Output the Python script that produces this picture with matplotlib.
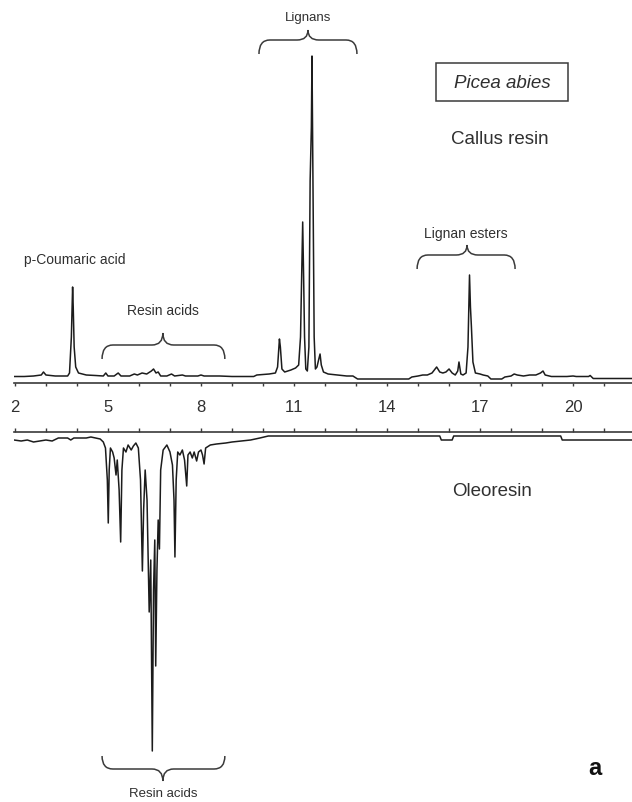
import matplotlib
matplotlib.use('Agg')
import matplotlib.pyplot as plt
from matplotlib.path import Path
from matplotlib.patches import PathPatch, Rectangle

plt.rcParams['font.family'] = ['Liberation Sans', 'DejaVu Sans']
plt.rcParams['text.kerning_factor'] = 1000

# Retention time (min) and detector response for the callus resin trace
callus_time = [
    1.97, 2.3, 2.6, 2.85, 2.92, 3.0, 3.3, 3.7, 3.76, 3.82, 3.86, 3.88, 3.91,
    3.96, 4.05, 4.3, 4.6, 4.85, 4.93, 5.0, 5.2, 5.33, 5.42, 5.7, 5.85, 5.95,
    6.1, 6.25, 6.4, 6.47, 6.55, 6.62, 6.7, 6.9, 7.05, 7.15, 7.4, 7.5, 7.9,
    8.0, 8.1, 8.6, 9.0, 9.7, 9.8, 10.2, 10.4, 10.47, 10.53, 10.56, 10.61,
    10.7, 10.9, 11.05, 11.15, 11.21, 11.28, 11.31, 11.34, 11.38, 11.43,
    11.48, 11.52, 11.56, 11.58, 11.61, 11.65, 11.69, 11.74, 11.8, 11.84,
    11.88, 11.95, 12.1, 12.4, 12.7, 12.9, 13.05, 14.7, 14.8, 15.0, 15.15,
    15.3, 15.45, 15.55, 15.6, 15.7, 15.8, 15.9, 16.0, 16.1, 16.2, 16.28,
    16.32, 16.38, 16.45, 16.55, 16.61, 16.66, 16.69, 16.72, 16.77, 16.85,
    17.0, 17.1, 17.25, 17.35, 17.7, 17.8, 18.0, 18.1, 18.2, 18.4, 18.6,
    18.8, 18.95, 19.03, 19.1, 19.3, 19.8, 20.0, 20.1, 20.5, 20.55, 20.65,
    21.9,
]
callus_signal = [
    0.5, 0.5, 1, 2, 5, 2, 1, 1, 4, 40, 90, 70, 30,
    10, 4, 2, 1.5, 1, 4, 1, 1, 4, 1, 1, 3, 2,
    4, 3, 6, 8, 4, 5, 1, 1, 3, 1, 2, 1, 1,
    2, 1, 1, 0.5, 0.5, 2, 3, 4, 10, 38, 30, 8,
    5, 7, 9, 12, 40, 155, 100, 40, 8, 6,
    30, 196, 250, 321, 200, 40, 8, 10, 18, 23,
    12, 5, 3, 2, 1, 1, -2, -2, 0, 1, 2,
    2, 4, 8, 10, 5, 4, 5, 8, 4, 2, 6,
    15, 3, 2, 4, 30, 102, 70, 51, 15, 4,
    3, 2, 1, -2, -2, 0, 1, 3, 2, 1, 2,
    2, 4, 6, 2, 0.5, 0.5, 1, 0.5, 0.5, 1.5, -1.5,
    -1.5,
]

# Oleoresin trace, plotted downward (depth below its baseline)
oleo_time = [
    1.97, 2.2, 2.4, 2.6, 2.8, 3.0, 3.2, 3.4, 3.7, 3.8, 3.9, 4.3, 4.45, 4.6,
    4.75, 4.85, 4.92, 4.98, 5.01, 5.04, 5.08, 5.15, 5.2, 5.26, 5.3, 5.36,
    5.41, 5.45, 5.5, 5.58, 5.65, 5.75, 5.82, 5.9, 5.98, 6.05, 6.11, 6.15,
    6.2, 6.26, 6.33, 6.38, 6.43, 6.47, 6.51, 6.54, 6.58, 6.62, 6.66, 6.7,
    6.78, 6.9, 7.0, 7.08, 7.13, 7.16, 7.2, 7.25, 7.32, 7.4, 7.47, 7.54,
    7.58, 7.65, 7.72, 7.78, 7.86, 7.92, 8.0, 8.05, 8.1, 8.15, 8.3, 8.5,
    8.8, 9.0, 9.3, 9.6, 9.9, 10.17, 10.2, 15.7, 15.75, 16.1, 16.15, 19.6,
    19.65, 21.9,
]
oleo_depth = [
    0, 1, 0, 2, 1, 0, 1, -2, -2, 0, -2, -2, -3, -2,
    -1, 2, 8, 40, 83, 30, 8, 12, 18, 35, 20, 50,
    102, 30, 8, 12, 5, 10, 6, 3, 8, 40, 131, 70,
    30, 60, 172, 120, 311, 150, 100, 226, 130, 80, 109, 30,
    10, 5, 12, 25, 60, 117, 40, 12, 15, 10, 20, 46,
    15, 12, 18, 12, 21, 12, 10, 15, 24, 8, 5, 4,
    3, 2, 1, 0, -2, -4, -4, -4, 0, 0, -4, -4,
    0, 0,
]

tick_positions = list(range(2, 22))
tick_labels = [str(t) if t % 3 == 2 else '' for t in tick_positions]

TEXT_COLOR = '#303030'
LINE_COLOR = '#1c1c1c'


def draw_brace(ax, x0, x1, xm, y_tip, y_h, y_m, r=0.35):
    verts = [
        (x0, y_tip), (x0, y_h), (x0 + r, y_h),
        (xm - r, y_h), (xm, y_h), (xm, y_m),
        (xm, y_h), (xm + r, y_h),
        (x1 - r, y_h), (x1, y_h), (x1, y_tip),
    ]
    codes = [
        Path.MOVETO, Path.CURVE3, Path.CURVE3,
        Path.LINETO, Path.CURVE3, Path.CURVE3,
        Path.CURVE3, Path.CURVE3,
        Path.LINETO, Path.CURVE3, Path.CURVE3,
    ]
    patch = PathPatch(Path(verts, codes), facecolor='none',
                      edgecolor='#3a3a3a', lw=1.1, clip_on=False)
    ax.add_patch(patch)


fig = plt.figure(figsize=(6.32, 8.03), dpi=100)
left = 14 / 632
ax_top = fig.add_axes([left, 1 - 384 / 803, 1 - left, 384 / 803])
ax_bot = fig.add_axes([left, 0, 1 - left, 370 / 803])

for ax in (ax_top, ax_bot):
    ax.set_xlim(1.97, 21.9)
    ax.set_facecolor('none')
    for side in ('left', 'right'):
        ax.spines[side].set_visible(False)
    ax.set_yticks([])

# upper panel: callus resin
ax_top.set_ylim(-6, 378)
ax_top.spines['top'].set_visible(False)
ax_top.spines['bottom'].set_color('#3a3a3a')
ax_top.spines['bottom'].set_linewidth(1.2)
ax_top.plot(callus_time, callus_signal, color=LINE_COLOR, lw=1.1)
ax_top.set_xticks(tick_positions)
ax_top.set_xticklabels(tick_labels)
ax_top.tick_params(axis='x', direction='out', length=2.5, width=1,
                   color='#3a3a3a', labelsize=12, labelcolor=TEXT_COLOR, pad=9)

# lower panel: oleoresin
ax_bot.set_ylim(-362, 8)
ax_bot.spines['bottom'].set_visible(False)
ax_bot.spines['top'].set_color('#3a3a3a')
ax_bot.spines['top'].set_linewidth(1.2)
ax_bot.plot(oleo_time, [-d for d in oleo_depth], color=LINE_COLOR, lw=1.1)
ax_bot.set_xticks(tick_positions)
ax_bot.tick_params(axis='x', bottom=False, labelbottom=False, top=True,
                   direction='out', length=3, width=1, color='#3a3a3a')

# annotations, upper
ax_top.text(3.94, 118, 'p-Coumaric acid', ha='center', va='center',
            fontsize=10, color=TEXT_COLOR)
ax_top.text(6.77, 67, 'Resin acids', ha='center', va='center',
            fontsize=10, color=TEXT_COLOR)
draw_brace(ax_top, 4.81, 8.77, 6.77, 18, 32, 44)
ax_top.text(11.45, 360, 'Lignans', ha='center', va='center',
            fontsize=9.5, color=TEXT_COLOR)
draw_brace(ax_top, 9.87, 13.03, 11.45, 323, 337, 347)
ax_top.text(16.55, 144, 'Lignan esters', ha='center', va='center',
            fontsize=10, color=TEXT_COLOR)
draw_brace(ax_top, 14.97, 18.13, 16.58, 108, 122, 132)
ax_top.add_patch(Rectangle((15.58, 276), 4.26, 38, facecolor='none',
                           edgecolor='#3a3a3a', lw=1.1, clip_on=False))
ax_top.text(17.71, 295, 'Picea abies', ha='center', va='center',
            fontsize=13.5, style='italic', color=TEXT_COLOR)
ax_top.text(17.65, 238, 'Callus resin', ha='center', va='center',
            fontsize=13.5, color=TEXT_COLOR)

# annotations, lower
ax_bot.text(17.39, -51, 'Oleoresin', ha='center', va='center',
            fontsize=13.5, color=TEXT_COLOR)
draw_brace(ax_bot, 4.81, 8.77, 6.77, -316, -329, -341)
ax_bot.text(6.77, -347, 'Resin acids', ha='center', va='top',
            fontsize=9.5, color=TEXT_COLOR, clip_on=False)
ax_bot.text(20.71, -328, 'a', ha='center', va='center',
            fontsize=17, fontweight='bold', color='#111111')

fig.savefig('out.png', dpi=100)
